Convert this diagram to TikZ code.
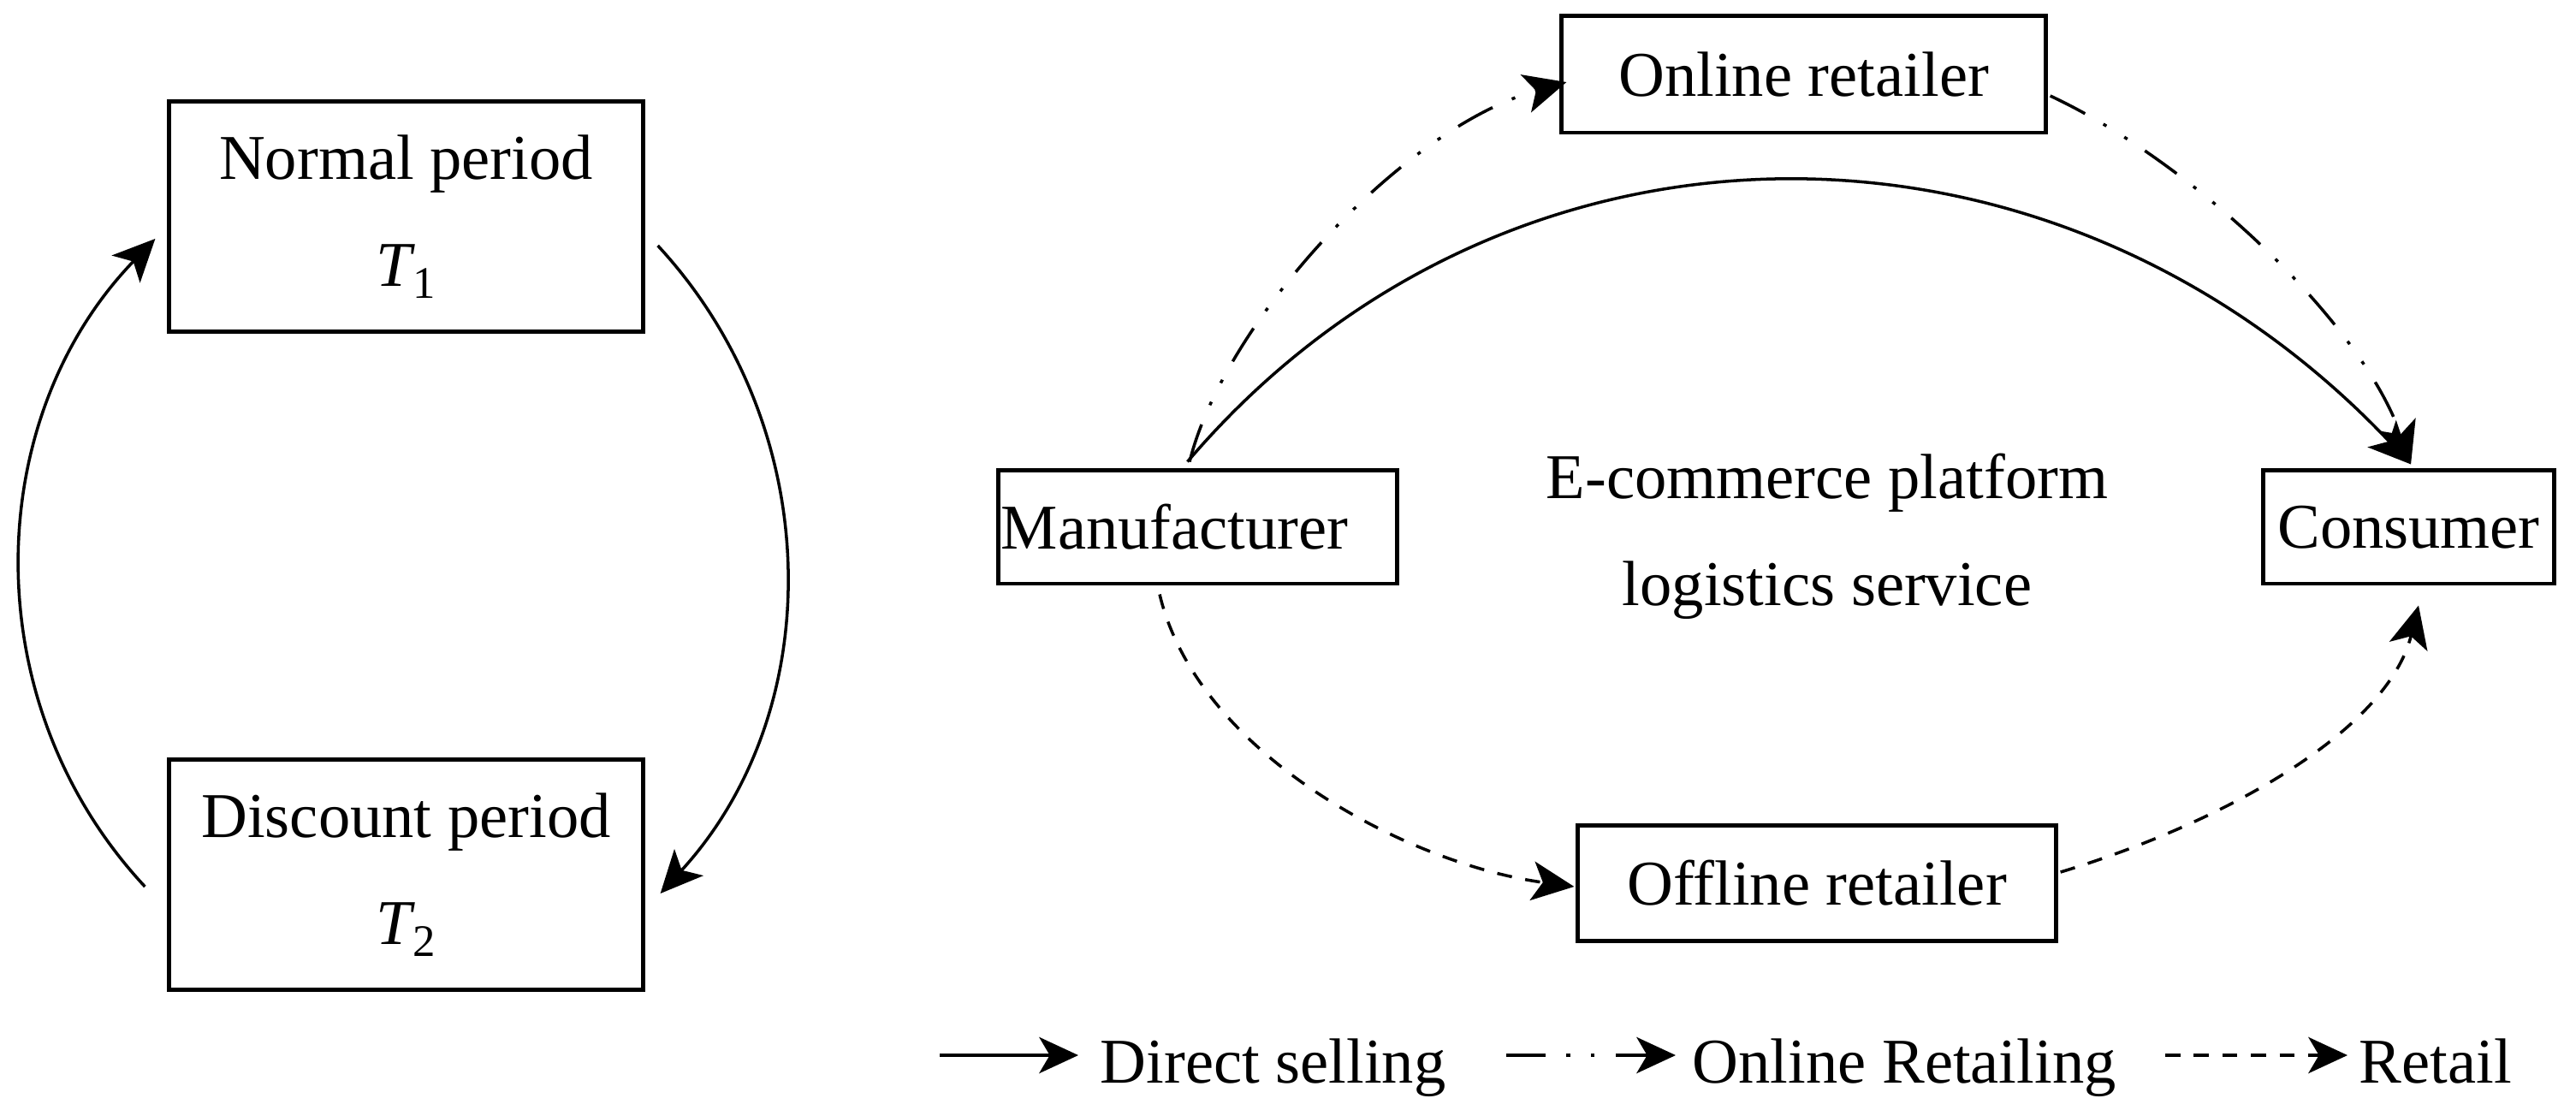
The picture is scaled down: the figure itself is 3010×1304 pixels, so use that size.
\documentclass[tikz,border=0pt]{standalone}
\usepackage{fontspec}
\setmainfont{Liberation Serif}
\usetikzlibrary{arrows.meta,calc}
\newcommand\subidx[1]{\kern-0.04em\raisebox{-0.19em}{\fontsize{15pt}{15pt}\selectfont #1}}
\tikzset{
  basefont/.style={font=\fontsize{21.2pt}{35.5pt}\selectfont},
  box/.style={draw, line width=1.4pt, inner sep=0pt, basefont},
  conn/.style={line width=1pt, -{Stealth[length=14pt,width=13pt,inset=3.5pt]}},
  legarrow/.style={line width=1.2pt, -{Stealth[length=13pt,width=12pt,inset=3.5pt]}},
  dashdotdot/.style={dash pattern=on 13pt off 7pt on 1.2pt off 7pt on 1.2pt off 7pt},
  retaildash/.style={dash pattern=on 5pt off 4.5pt},
  plain/.style={inner sep=0pt, basefont}
}
\begin{document}
\begin{tikzpicture}[x=0.01cm, y=-0.01cm]
\useasboundingbox (0,0) rectangle (3010,1304);

% left cycle
\node[box, minimum width=5.53cm, minimum height=2.68cm, align=center] (normal) at (474.5,253)
  {Normal period\\\textit{T}\subidx{1}};
\node[box, minimum width=5.53cm, minimum height=2.68cm, align=center] (disc) at (474.5,1022)
  {Discount period\\\textit{T}\subidx{2}};

\draw[conn] ($(disc.west)+(-26,14)$) .. controls ($(disc.west)+(-227,-202)$) and ($(normal.west)+(-216,235)$) .. ($(normal.west)+(-14,26)$);
\draw[conn] ($(normal.east)+(15,34)$) .. controls ($(normal.east)+(212,247)$) and ($(disc.east)+(215,-193)$) .. ($(disc.east)+(18,22)$);

% right network
\node[box, minimum width=5.65cm, minimum height=1.36cm] (online) at (2107.5,87) {Online retailer};
\node[box, minimum height=1.32cm, text width=4.59cm, inner xsep=0.03cm, align=left] (manu) at (1399.5,616) {Manufacturer};
\node[box, minimum width=3.39cm, minimum height=1.32cm] (cons) at (2814.5,616) {Consumer};
\node[box, minimum width=5.58cm, minimum height=1.35cm] (off) at (2123,1032) {Offline retailer};
\node[plain, align=center] (ecom) at (2135,627) {E-commerce platform\\logistics service};

% direct selling
\draw[conn] ($(manu.north)+(-12,-8)$) .. controls ($(manu.north)+(360,-445)$) and ($(cons.north)+(-414,-445)$) .. ($(cons.north)+(2.5,-5)$);
% online retailing
\draw[conn, dashdotdot] ($(manu.north)+(-9.5,-8)$) .. controls ($(manu.north)+(30.5,-170)$) and ($(online.west)+(-185,63)$) .. ($(online.west)+(8,9)$);
\draw[conn, dashdotdot] ($(online.east)+(3,25)$) .. controls ($(online.east)+(170,103)$) and ($(cons.north)+(-54.5,-170)$) .. ($(cons.north)+(2.5,-5)$);
% retail
\draw[conn, retaildash] ($(manu.south)+(-44.5,10)$) .. controls ($(manu.south)+(0.5,198)$) and ($(off.west)+(-194,-22)$) .. ($(off.west)+(-2,4)$);
\draw[conn, retaildash] ($(off.east)+(3,-13)$) .. controls ($(off.east)+(198,-72)$) and ($(cons.south)+(-24.5,168)$) .. ($(cons.south)+(11.5,23)$);

% legend
\coordinate (l1s) at (1098,1233);
\coordinate (l1e) at (1260,1233);
\node[plain, anchor=base west] (l1t) at (1285,1265) {Direct selling};
\coordinate (l2s) at (1760,1233);
\coordinate (l2e) at (1958,1233);
\node[plain, anchor=base west] (l2t) at (1977,1265) {Online Retailing};
\coordinate (l3s) at (2530,1233);
\coordinate (l3e) at (2743,1233);
\node[plain, anchor=base west] (l3t) at (2756,1265) {Retail};
\draw[legarrow] (l1s) -- (l1e);
\draw[legarrow, dashdotdot] (l2s) -- (l2e);
\draw[legarrow, retaildash] (l3s) -- (l3e);
\end{tikzpicture}
\end{document}
